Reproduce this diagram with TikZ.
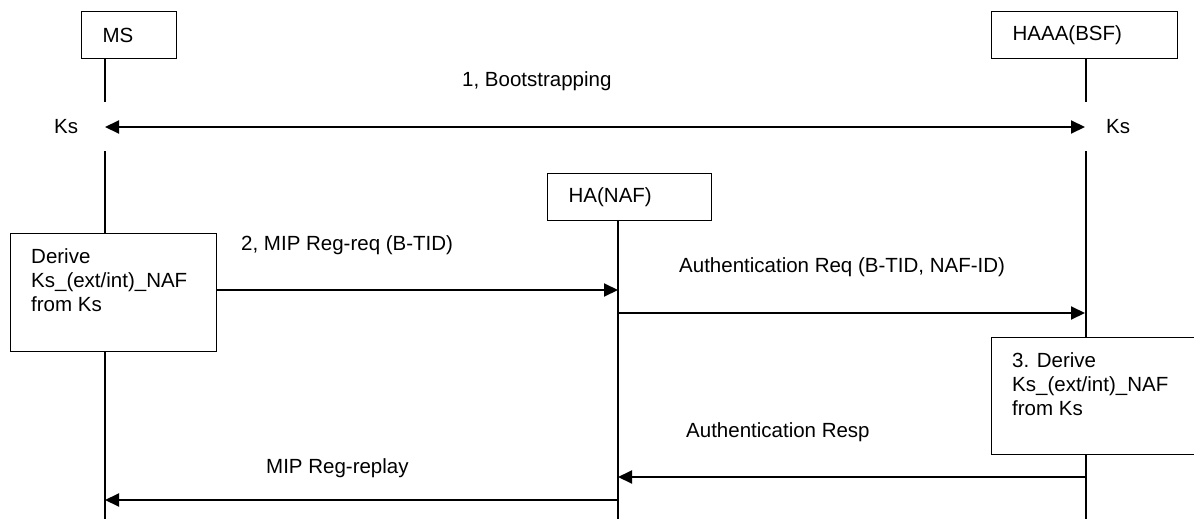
\documentclass[tikz,border=0pt]{standalone}
\usepackage{fontspec}
\setmainfont{Liberation Sans}
\usetikzlibrary{arrows.meta,positioning}

\begin{document}
\begin{tikzpicture}[x=1pt,y=-1pt]
      \tikzset{
        node distance=15pt and 21pt,
        every node/.style={font=\fontsize{20.5}{24}\selectfont,inner sep=0pt},
        entity/.style={draw,line width=1.3pt,minimum height=47pt,align=left,inner xsep=21pt,anchor=north west},
        procbox/.style={draw,line width=1.3pt,anchor=north west},
        boxtext/.style={align=left,anchor=north west},
        lifeline/.style={line width=1.3pt},
        msg/.style={line width=2pt,-{Triangle[length=14pt,width=13pt]}},
        twoway/.style={line width=2pt,{Triangle[length=14pt,width=13pt]}-{Triangle[length=14pt,width=13pt]}},
        lbl/.style={anchor=base west}
      }
      \useasboundingbox (0,0) rectangle (1194,519);

      % entities
      \node[entity,text width=53pt] (ms) at (81,11) {MS};
      \node[entity,text width=122pt] (ha) at (547,173) {HA(NAF)};
      \node[entity,text width=144pt] (haaa) at (991,11) {HAAA(BSF)};

      % derive boxes
      \node[procbox,minimum width=206pt,minimum height=118pt] (derms) at (10,233) {};
      \node[boxtext,below right=of derms.north west] (dermstxt) {Derive\\Ks\_(ext/int)\_NAF\\from Ks};
      \node[procbox,minimum width=300pt,minimum height=117pt] (derhaaa) at (991,337) {};
      \node[boxtext,below right=of derhaaa.north west] (derhaaatxt) {3. Derive\\Ks\_(ext/int)\_NAF\\from Ks};

      % points on the lifelines
      \coordinate (msK1) at (105,102);
      \coordinate (msK2) at (105,151);
      \coordinate (haaaK1) at (1086,102);
      \coordinate (haaaK2) at (1086,151);
      \coordinate (ksA) at (105,127);
      \coordinate (ksB) at (1085,127);
      \coordinate (reqB) at (618,290);
      \coordinate (areqA) at (618,313);
      \coordinate (areqB) at (1085,313);
      \coordinate (arespA) at (1086,477);
      \coordinate (arespB) at (618,477);
      \coordinate (repA) at (618,500);
      \coordinate (repB) at (105,500);
      \coordinate (msEnd) at (105,519);
      \coordinate (haEnd) at (618,519);
      \coordinate (haaaEnd) at (1086,519);

      % lifelines
      \draw[lifeline] (ms.south -| msK1) -- (msK1)
            (msK2) -- (msK2 |- derms.north)
            (msK2 |- derms.south) -- (msEnd);
      \draw[lifeline] (ha.south -| haEnd) -- (haEnd);
      \draw[lifeline] (haaa.south -| haaaK1) -- (haaaK1)
            (haaaK2) -- (haaaK2 |- derhaaa.north)
            (haaaK2 |- derhaaa.south) -- (haaaEnd);

      % messages
      \draw (ksA) edge[twoway] (ksB)
            (derms.east |- reqB) edge[msg] (reqB)
            (areqA) edge[msg] (areqB)
            (arespA) edge[msg] (arespB)
            (repA) edge[msg] (repB);

      \node[lbl] (ksl) at (54,133) {Ks};
      \node[lbl] (ksr) at (1106,133) {Ks};
      \node[lbl] (bootlbl) at (462,86) {1, Bootstrapping};
      \node[lbl] (reqlbl) at (241,250) {2, MIP Reg-req (B-TID)};
      \node[lbl] (areqlbl) at (679,272) {Authentication Req (B-TID, NAF-ID)};
      \node[lbl] (aresplbl) at (686,437) {Authentication Resp};
      \node[lbl] (replbl) at (266,473) {MIP Reg-replay};
    \end{tikzpicture}
\end{document}
